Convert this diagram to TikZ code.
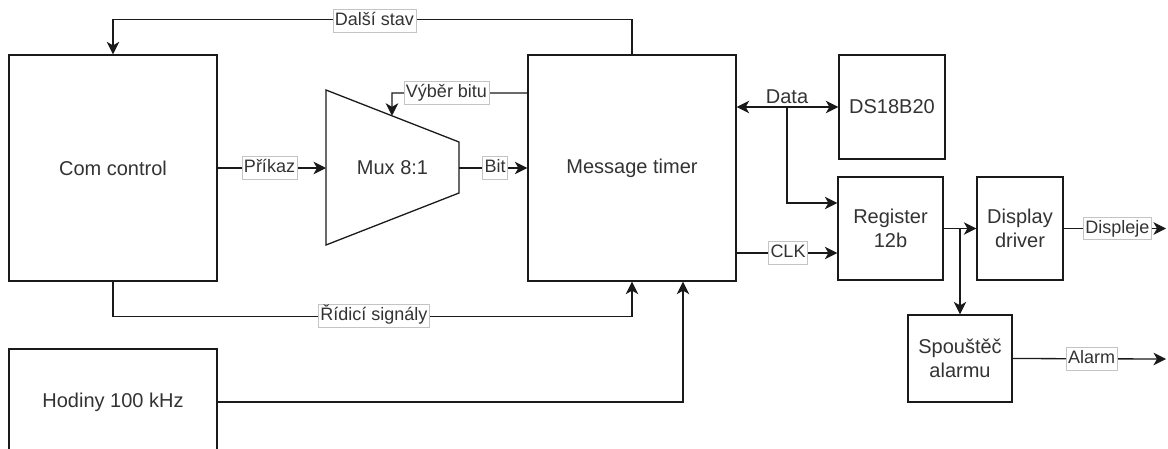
\documentclass[tikz,border=0pt]{standalone}
\usepackage{fontspec}
\setmainfont{Liberation Sans}
\usetikzlibrary{arrows.meta,calc}
\definecolor{ink}{HTML}{1A1A1A}
\definecolor{txt}{HTML}{333333}
\definecolor{lblborder}{HTML}{C4C4C4}

\begin{document}
\begin{tikzpicture}[x=1pt,y=-1pt,
  block/.style={draw=ink, line width=1.3pt, fill=white, text=txt,
    font=\fontsize{20}{24}\selectfont, align=center, inner sep=0pt},
  tip/.tip={Stealth[length=12.5pt,width=12.5pt,inset=3.5pt]},
  wire/.style={draw=ink, line width=1.3pt, -tip},
  biwire/.style={draw=ink, line width=1.3pt, tip-tip},
  lbl/.style={fill=white, draw=lblborder, line width=0.6pt, text=txt,
    font=\fontsize{18}{21}\selectfont, inner xsep=2pt, inner ysep=2pt,
    text height=14pt, text depth=4.5pt},
  free/.style={text=txt, font=\fontsize{20}{24}\selectfont, inner sep=0pt},
]
\useasboundingbox (0,0) rectangle (1168,448);

% ---- blocks ----
\node[block, minimum width=208pt, minimum height=226pt] (com) at (113,168) {Com control};
\node[block, minimum width=208pt, minimum height=106pt] (hod) at (113,402) {Hodiny 100 kHz};
\node[block, minimum width=208pt, minimum height=226pt] (mt) at (632,168) {Message timer};
\node[block, minimum width=106pt, minimum height=104pt] (ds) at (892,107) {DS18B20};
\node[block, minimum width=105pt, minimum height=103pt] (reg) at (890.5,228.5) {Register\\12b};
\node[block, minimum width=86pt, minimum height=103pt] (disp) at (1020,228.5) {Display\\driver};
\node[block, minimum width=104pt, minimum height=87pt] (alarm) at (960,358.5) {Spouštěč\\alarmu};

% ---- multiplexer (trapezoid) ----
\coordinate (mux-tl) at (326,90);
\coordinate (mux-tr) at (459,142);
\coordinate (mux-br) at (459,193);
\coordinate (mux-bl) at (326,245);
\draw[draw=ink, line width=1.3pt, fill=white, line join=miter]
  (mux-tl) -- (mux-tr) -- (mux-br) -- (mux-bl) -- cycle;
\node[free] (mux) at (392.5,167.5) {Mux 8:1};
\coordinate (mux-in) at (326,168);
\coordinate (mux-out) at (459,168);
\coordinate (mux-sel) at ($(mux-tl)!0.496!(mux-tr)$);

% ---- helper points ----
\coordinate (selrow) at (392,93);
\coordinate (dsplit) at (787,107);
\coordinate (reg-data) at ($(reg.west)+(0,-25.5)$);
\coordinate (reg-clk) at ($(reg.west)+(0,24.5)$);
\coordinate (clk-in) at ($(mt.south)+(51,0)$);
\coordinate (disp-out) at (1166,228.5);
\coordinate (alarm-out) at (1166,359);

% ---- connectors ----
% next state feedback
\draw[wire] (mt.north) -- ++(0,-35) -| (com.north);
\node[lbl] at (374.5,21) {Další stav};

% bit select
\draw[wire] (selrow -| mt.west) -- (selrow) -- (mux-sel);
\node[lbl] at (446.5,93) {Výběr bitu};

% command and bit
\draw[wire] (com.east) -- (mux-in);
\node[lbl] at (269.5,168) {Příkaz};
\draw[wire] (mux-out) -- (mt.west);
\node[lbl] at (495,168) {Bit};

% control signals
\draw[wire] (com.south) -- ++(0,35) -| (mt.south);
\node[lbl] at (374,316) {Řídicí signály};

% clock source
\draw[wire] (hod.east) -| (clk-in);

% data bus
\draw[biwire] (mt.east |- ds.west) -- (ds.west);
\node[free] at (787,97) {Data};
\draw[wire] (dsplit) |- (reg-data);

% register clock
\draw[wire] (mt.east |- reg-clk) -- (reg-clk);
\node[lbl] at (788,253) {CLK};

% register outputs
\draw[wire] (reg.east) -- (disp.west);
\draw[wire] (alarm.north |- reg.east) -- (alarm.north);

% outputs
\draw[wire] (disp.east) -- (disp-out);
\node[lbl] at (1117.5,228.5) {Displeje};
\draw[wire] (alarm.east) -- (alarm-out);
\node[lbl] at (1091.5,359) {Alarm};
\end{tikzpicture}
\end{document}
